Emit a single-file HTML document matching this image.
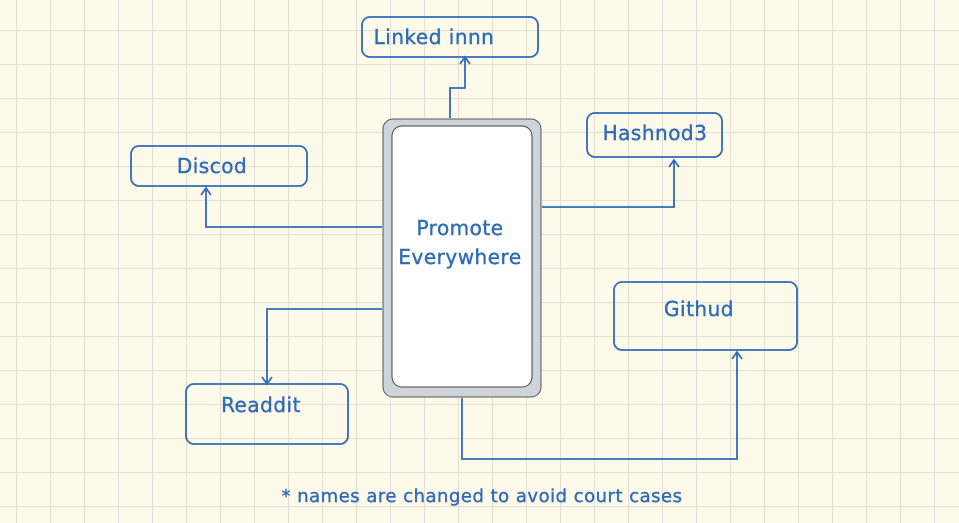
<!DOCTYPE html>
<html><head><style>
html,body{margin:0;padding:0}
body{width:959px;height:523px;overflow:hidden;background:#fefae9;
background-image:linear-gradient(to right,#e3ded6 1px,transparent 1px),linear-gradient(to bottom,#e3ded6 1px,transparent 1px);
background-size:34px 34px;background-position:16px 30px;position:relative;font-family:"DejaVu Sans","Liberation Sans",sans-serif;}
.t{position:absolute;color:#2f6bb8;font-size:20px;text-align:center;white-space:nowrap;letter-spacing:0.5px;-webkit-text-stroke:0.4px #2f6bb8}
</style></head><body>
<svg width="959" height="523" style="position:absolute;left:0;top:0" fill="none">
<g stroke="#2f6bb8" stroke-width="1.8">
<rect x="362" y="17" width="176" height="40" rx="8"/>
<rect x="131" y="146" width="176" height="40" rx="8"/>
<rect x="587" y="113" width="135" height="44" rx="8"/>
<rect x="614" y="282" width="183" height="68" rx="8"/>
<rect x="186" y="384" width="162" height="60" rx="8"/>
<path d="M450 118 V88 H465 V58"/><path d="M460 64 L465 57 L470 64"/>
<path d="M382 227 H206 V188"/><path d="M201 195 L206 188 L211 195"/>
<path d="M542 207 H674 V160"/><path d="M669 167 L674 160 L679 167"/>
<path d="M382 309 H267 V384"/><path d="M262 377 L267 384 L272 377"/>
<path d="M462 398 V459 H737 V352"/><path d="M732 359 L737 352 L742 359"/>
</g>
<rect x="383" y="119" width="158" height="278" rx="10" fill="#ced4da" stroke="#555" stroke-width="1"/>
<rect x="392" y="126" width="140" height="261" rx="10" fill="#fff" stroke="#444" stroke-width="1"/>
</svg>
<div class="t" style="left:369px;top:25px;width:130px">Linked innn</div>
<div class="t" style="left:131px;top:154px;width:162px">Discod</div>
<div class="t" style="left:585px;top:121px;width:140px">Hashnod3</div>
<div class="t" style="left:614px;top:297px;width:170px">Githud</div>
<div class="t" style="left:186px;top:393px;width:150px">Readdit</div>
<div class="t" style="left:383px;top:214px;width:154px;line-height:29px">Promote<br>Everywhere</div>
<div class="t" style="left:232px;top:486px;width:500px;font-size:18px">* names are changed to avoid court cases</div>
</body></html>
